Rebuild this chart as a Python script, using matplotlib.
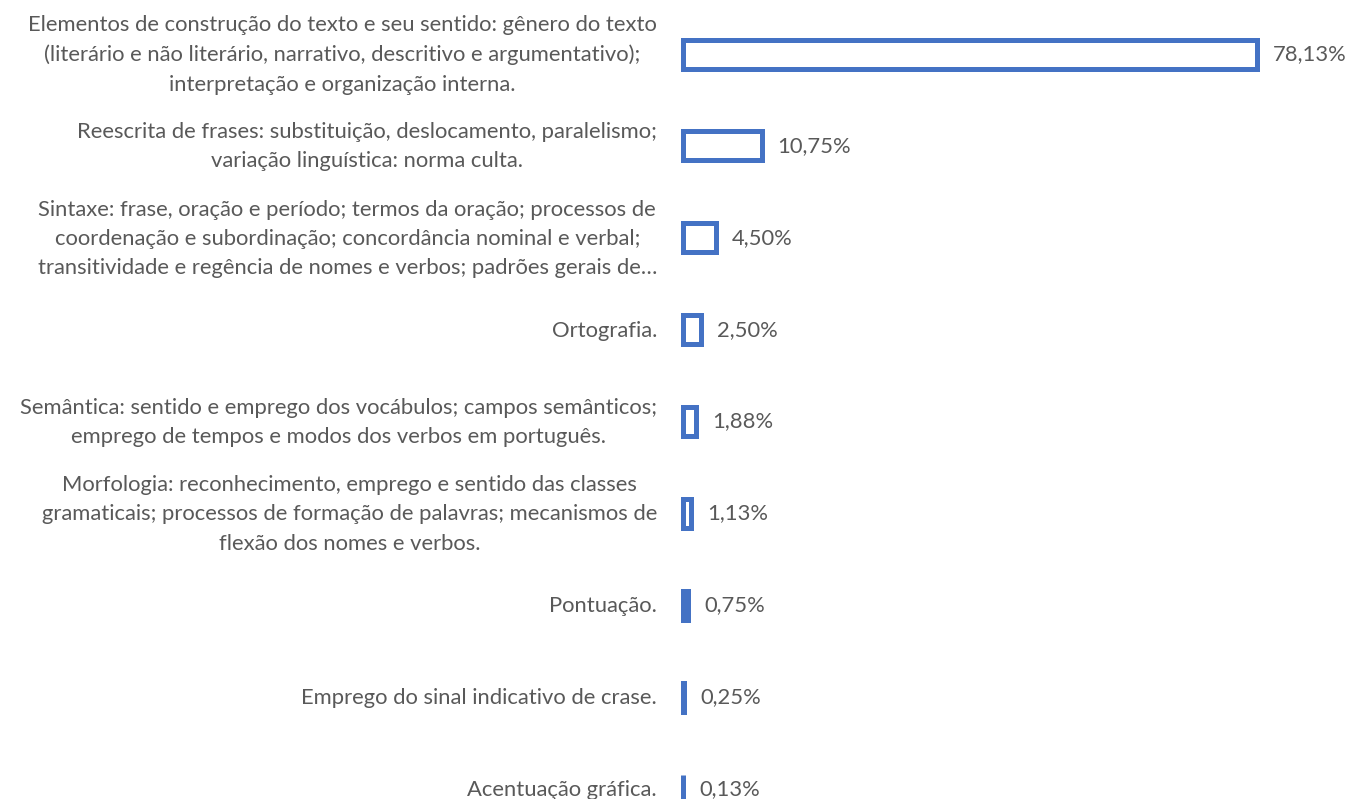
import matplotlib
matplotlib.use("Agg")
import matplotlib.pyplot as plt
from matplotlib.font_manager import FontProperties

categories = [
    "Elementos de construção do texto e seu sentido: gênero do texto\n(literário e não literário, narrativo, descritivo e argumentativo);\ninterpretação e organização interna.",
    "Reescrita de frases: substituição, deslocamento, paralelismo;\nvariação linguística: norma culta.",
    "Sintaxe: frase, oração e período; termos da oração; processos de\ncoordenação e subordinação; concordância nominal e verbal;\ntransitividade e regência de nomes e verbos; padrões gerais de…",
    "Ortografia.",
    "Semântica: sentido e emprego dos vocábulos; campos semânticos;\nemprego de tempos e modos dos verbos em português.",
    "Morfologia: reconhecimento, emprego e sentido das classes\ngramaticais; processos de formação de palavras; mecanismos de\nflexão dos nomes e verbos.",
    "Pontuação.",
    "Emprego do sinal indicativo de crase.",
    "Acentuação gráfica.",
]
values = [78.13, 10.75, 4.50, 2.50, 1.88, 1.13, 0.75, 0.25, 0.13]
value_labels = ["78,13%", "10,75%", "4,50%", "2,50%", "1,88%", "1,13%", "0,75%", "0,25%", "0,13%"]

BLUE = "#4472C4"
GRAY = "#595959"
FAMILY = "Lato"

W, H, DPI = 1347, 799, 100
fig = plt.figure(figsize=(W / DPI, H / DPI), dpi=DPI)
fig.patch.set_facecolor("white")

# font size fit to the reference line width
renderer = fig.canvas.get_renderer()
fp = FontProperties(family=FAMILY, size=10)
w10, _, _ = renderer.get_text_width_height_descent(
    "Elementos de construção do texto e seu sentido: gênero do texto", fp, ismath=False)
fs = 10 * 632 / w10
fp2 = FontProperties(family=FAMILY, size=fs)
_, lh, ld = renderer.get_text_width_height_descent("lp", fp2, ismath=False)
ls = 0.87 * 29.0 / (lh - ld)

# axes geometry (pixels)
x0_px = 682.5
px_per_unit = 7.35
y_first, y_last = 54.0, 789.0
pitch = (y_last - y_first) / (len(values) - 1)

ax = fig.add_axes([x0_px / W, 0, 1 - x0_px / W, 1])
ax.set_xlim(0, (W - x0_px) / px_per_unit)
ax.set_ylim((H - y_first) / pitch, -y_first / pitch)
ax.axis("off")

ypos = list(range(len(values)))
lw_pt = 5 * 72 / DPI
bars = ax.barh(ypos, values, height=29 / pitch, left=0, facecolor="white",
               edgecolor=BLUE, linewidth=lw_pt, clip_on=False)

for y, v, lab, cat in zip(ypos, values, value_labels, categories):
    ax.annotate(lab, xy=(v, y), xytext=(16 * 72 / DPI, 0), textcoords="offset points",
                ha="left", va="center", fontsize=fs, color=GRAY, family=FAMILY,
                annotation_clip=False)
    ax.annotate(cat, xy=(0, y), xytext=(-(682.5 - 657) * 72 / DPI, -1.0 * 72 / DPI),
                textcoords="offset points", ha="right", va="center",
                multialignment="center", fontsize=fs, color=GRAY, family=FAMILY,
                linespacing=ls, annotation_clip=False)

fig.savefig("out.png", dpi=DPI, facecolor="white")
